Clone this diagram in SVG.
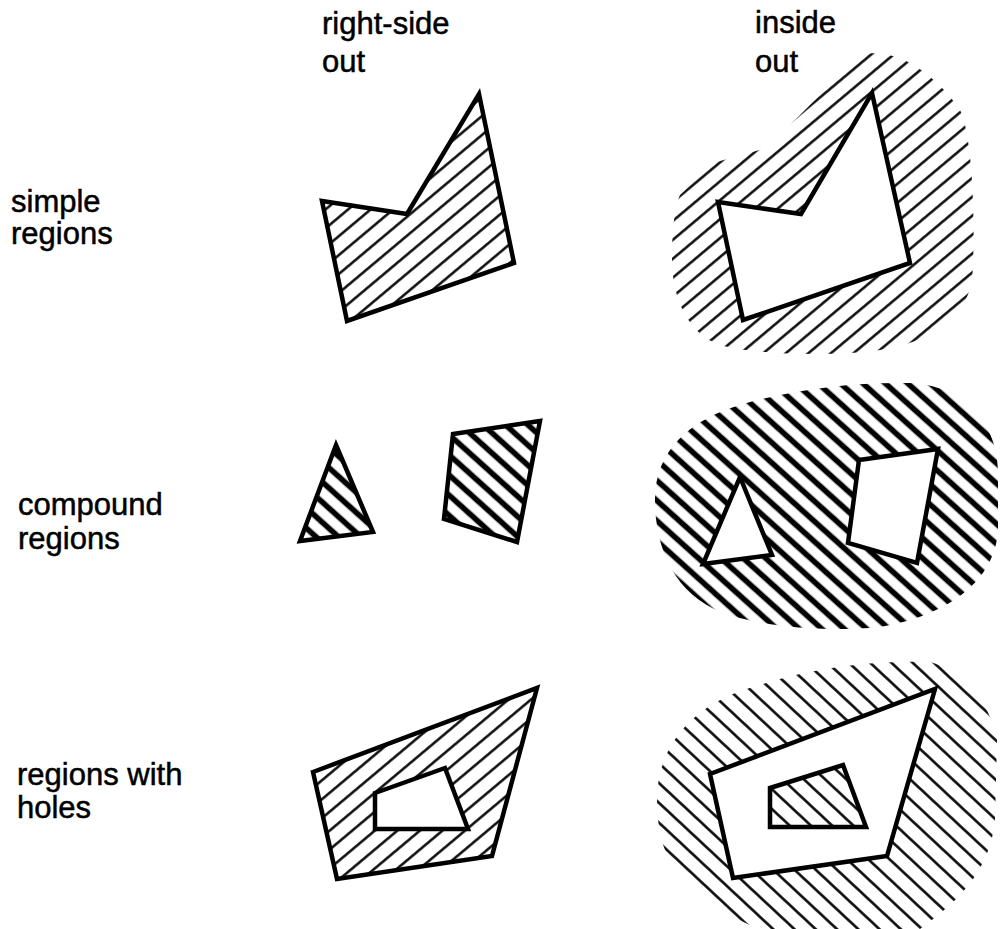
<svg xmlns="http://www.w3.org/2000/svg" width="1003" height="929" viewBox="0 0 1003 929">
<style>
text{font-family:"Liberation Sans",Arial,Helvetica,sans-serif;font-size:31px;fill:#000;stroke:#000;stroke-width:0.5}
.edge{stroke:#000;stroke-width:4.5;stroke-linejoin:miter;stroke-miterlimit:10}
.white{fill:#fff}
</style>
<defs>
<pattern id="thinUp" width="20" height="14.5" patternUnits="userSpaceOnUse" patternTransform="rotate(-40)"><rect y="6" width="20" height="2.4" fill="#000"/></pattern>
<pattern id="thickDown" width="20" height="15" patternUnits="userSpaceOnUse" patternTransform="rotate(42)"><rect y="4.7" width="20" height="5.6" fill="#000"/></pattern>
<pattern id="thinDown" width="20" height="14.5" patternUnits="userSpaceOnUse" patternTransform="rotate(43)"><rect y="6" width="20" height="2.5" fill="#000"/></pattern>
</defs>
<rect width="1003" height="929" fill="#fff"/>
<g id="labels">
<text x="322" y="34">right-side</text>
<text x="322" y="72">out</text>
<text x="755" y="33">inside</text>
<text x="755" y="72">out</text>
<text x="11" y="212">simple</text>
<text x="11" y="244">regions</text>
<text x="18" y="515">compound</text>
<text x="18" y="549">regions</text>
<text x="17" y="785">regions with</text>
<text x="17" y="818">holes</text>
</g>
<g id="simple-right">
<polygon class="edge" fill="url(#thinUp)" points="322,201 407,214 479,94 514,263 347,321"/>
</g>
<g id="simple-inside">
<path fill="url(#thinUp)" d="M680,195 L713,163 L770,147 L793,122 L860,55 C900,45 940,80 960,110 C975,140 975,250 972,280 C965,320 930,342 880,350 C840,356 760,356 720,345 C690,335 672,300 672,260 C672,230 675,205 680,195 Z"/>
<polygon class="edge white" points="718,202 801,214 872,93 910,263 743,320"/>
</g>
<g id="compound-right">
<polygon class="edge" fill="url(#thickDown)" points="336,445 373,532 300,541"/>
<polygon class="edge" fill="url(#thickDown)" points="453,434 540,421 517,542 444,519"/>
</g>
<g id="compound-inside">
<path fill="url(#thickDown)" d="M655,500 C655,450 690,420 740,405 C790,390 850,382 910,383 C960,385 997,420 998,470 L998,530 C995,580 950,615 880,627 C830,632 770,628 730,615 C680,600 655,555 655,500 Z"/>
<polygon class="edge white" points="740,477 772,555 703,564"/>
<polygon class="edge white" points="859,460 938,449 917,563 848,543"/>
</g>
<g id="holes-right">
<polygon class="edge" fill="url(#thinUp)" points="313,772 537,688 492,856 337,879"/>
<polygon class="edge white" points="375,793 445,768 468,829 375,829"/>
</g>
<g id="holes-inside">
<path fill="url(#thinDown)" d="M657,800 C657,740 700,700 760,685 C800,672 860,660 930,662 C960,670 990,700 997,740 L995,820 C990,870 960,900 920,929 L760,929 C720,915 680,880 665,850 C659,835 657,815 657,800 Z"/>
<polygon class="edge white" points="710,774 935,689 887,856 733,878"/>
<polygon class="edge" fill="url(#thinDown)" points="770,788 843,765 866,827 770,827"/>
</g>
</svg>
